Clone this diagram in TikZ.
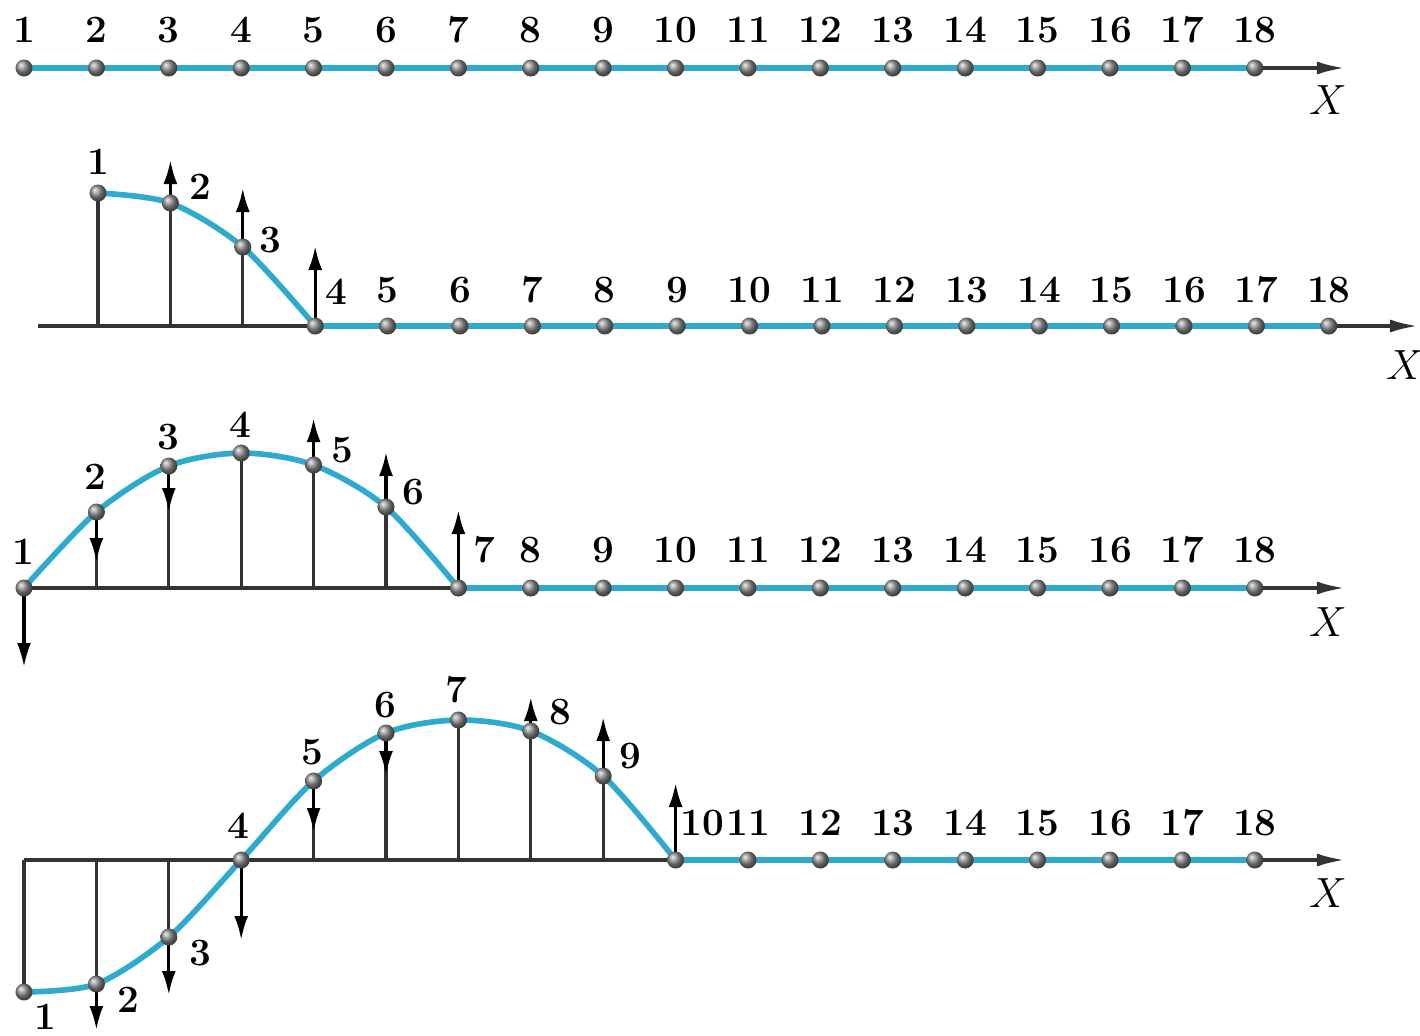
\documentclass[tikz,border=0pt]{standalone}
\usetikzlibrary{arrows.meta}
\definecolor{ropeblue}{RGB}{45,170,205}

\begin{document}
\begin{tikzpicture}[x=0.01cm,y=-0.01cm,font=\bfseries\fontsize{11}{13}\selectfont,
    ball/.style={circle,inner sep=0pt,minimum size=0.17cm,ball color=black!45},
    axisline/.style={line width=1pt,black!80},
    xaxis/.style={axisline,-{Latex[length=0.28cm,width=0.13cm]}},
    rope/.style={line width=1.6pt,ropeblue},
    stem/.style={line width=0.9pt,black!80},
    vel/.style={line width=0.9pt,black,-{Latex[length=0.24cm,width=0.14cm]}},
    xlab/.style={font=\fontsize{13}{15}\selectfont}]
  \useasboundingbox (0,0) rectangle (1420,1035);

  % row 1: string at rest
  \foreach \k in {1,...,18} \coordinate (a\k) at ({24+(\k-1)*72.4},68);
  \coordinate (aend) at (1345,68);
  \draw[xaxis] (a1) -- (aend);
  \draw[rope] (a1) -- (a18);
  \foreach \k in {1,...,18} {
    \node[ball] (ab\k) at (a\k) {};
    \node (an\k) at ({24+(\k-1)*72.4},30) {\k};
  }
  \node[xlab] (ax) at (1328,100) {$X$};

  % row 2: first quarter of the wave
  \foreach \h [count=\k] in {193,203,247,326,326,326,326,326,326,326,326,326,326,326,326,326,326,326} {
    \coordinate (b\k) at ({98+(\k-1)*72.4},\h);
    \coordinate (bf\k) at ({98+(\k-1)*72.4},326);
  }
  \coordinate (bstart) at (38,326);
  \coordinate (bend) at (1418,326);
  \draw[xaxis] (bstart) -- (bend);
  \foreach \k in {1,2,3} \draw[stem] (bf\k) -- (b\k);
  \draw[rope] plot[smooth] coordinates {(b1) (b2) (b3) (b4)};
  \draw[rope] (b4) -- (b18);
  \foreach \k/\t in {2/160,3/188,4/246} {
    \coordinate (bv\k) at (b\k |- 0,\t);
    \draw[vel] (b\k) -- (bv\k);
  }
  \foreach \k in {1,...,18} \node[ball] (bb\k) at (b\k) {};
  \foreach \k/\lx/\ly in {1/98/162,2/200/187,3/270/240,4/336/292} \node (bn\k) at (\lx,\ly) {\k};
  \foreach \k in {5,...,18} \node (bn\k) at ({98+(\k-1)*72.4},290) {\k};
  \node[xlab] (bx) at (1405,365) {$X$};

  % row 3: half a wave
  \foreach \h [count=\k] in {588,512,466,453,465,507,588,588,588,588,588,588,588,588,588,588,588,588} {
    \coordinate (c\k) at ({24+(\k-1)*72.4},\h);
    \coordinate (cf\k) at ({24+(\k-1)*72.4},588);
  }
  \coordinate (cend) at (1345,588);
  \draw[xaxis] (c1) -- (cend);
  \foreach \k in {2,...,6} \draw[stem] (cf\k) -- (c\k);
  \draw[rope] plot[smooth] coordinates {(c1) (c2) (c3) (c4) (c5) (c6) (c7)};
  \draw[rope] (c7) -- (c18);
  \foreach \k/\t in {1/667,2/562,3/512,5/418,6/452,7/510} {
    \coordinate (cv\k) at (c\k |- 0,\t);
    \draw[vel] (c\k) -- (cv\k);
  }
  \foreach \k in {1,...,18} \node[ball] (cb\k) at (c\k) {};
  \foreach \k/\lx/\ly in {1/23/552,2/95/477,3/168/437,4/240/425,5/342/450,6/413/492,7/484/550} \node (cn\k) at (\lx,\ly) {\k};
  \foreach \k in {8,...,18} \node (cn\k) at ({24+(\k-1)*72.4},550) {\k};
  \node[xlab] (cx) at (1328,622) {$X$};

  % row 4: three quarters of a wave
  \foreach \h [count=\k] in {992,984,937,860,781,733,720,731,776,860,860,860,860,860,860,860,860,860} {
    \coordinate (d\k) at ({24+(\k-1)*72.4},\h);
    \coordinate (df\k) at ({24+(\k-1)*72.4},860);
  }
  \coordinate (dend) at (1345,860);
  \draw[xaxis] (df1) -- (dend);
  \foreach \k in {1,2,3,5,6,7,8,9} \draw[stem] (df\k) -- (d\k);
  \draw[rope] plot[smooth] coordinates {(d1) (d2) (d3) (d4) (d5) (d6) (d7) (d8) (d9) (d10)};
  \draw[rope] (d10) -- (d18);
  \foreach \k/\t in {2/1030,3/995,4/940,5/832,6/775,8/697,9/717,10/783} {
    \coordinate (dv\k) at (d\k |- 0,\t);
    \draw[vel] (d\k) -- (dv\k);
  }
  \foreach \k in {1,...,18} \node[ball] (db\k) at (d\k) {};
  \foreach \k/\lx/\ly in {1/45/1017,2/128/1000,3/200/953,4/238/826,5/312/752,6/385/705,7/456/690,8/560/712,9/630/756,10/702/823} \node (dn\k) at (\lx,\ly) {\k};
  \foreach \k in {11,...,18} \node (dn\k) at ({24+(\k-1)*72.4},823) {\k};
  \node[xlab] (dx) at (1328,893) {$X$};
\end{tikzpicture}
\end{document}
